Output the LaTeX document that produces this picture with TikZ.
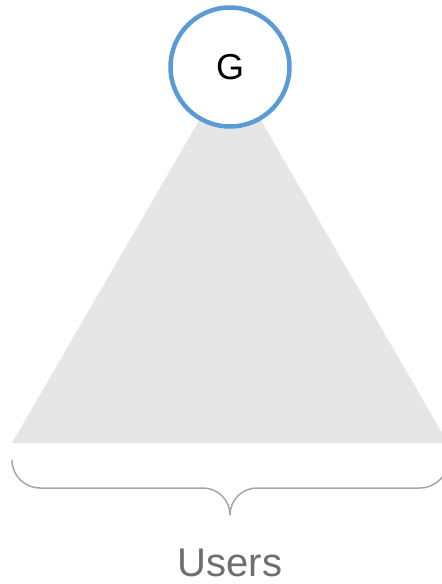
\documentclass[tikz,border=0pt]{standalone}
\usepackage{fontspec}
\setmainfont{Liberation Sans}
\definecolor{ringblue}{HTML}{5B9BD5}
\definecolor{trigray}{HTML}{E6E6E6}
\definecolor{bracegray}{HTML}{A6A6A6}
\definecolor{textgray}{HTML}{6E6E6E}
\tikzset{
  rootnode/.style={circle, draw=ringblue, line width=4.5pt, fill=white, minimum size=119pt, inner sep=0pt, font=\fontsize{36}{40}\selectfont},
  bracestyle/.style={draw=bracegray, line width=1.5pt},
  labelstyle/.style={text=textgray, inner sep=0pt, font=\fontsize{40}{46}\selectfont}
}
\begin{document}
\begin{tikzpicture}[x=1pt,y=-1pt]
\useasboundingbox (0,0) rectangle (442,584);
\clip (0,0) rectangle (442,584);
\coordinate (apex) at (230,67);
\coordinate (bl) at (12,443);
\coordinate (br) at (448,443);
\fill[trigray] (apex) -- (bl) -- (br) -- cycle;
\node[rootnode] (g) at (apex) {G};
\coordinate (bstart) at (12,460);
\coordinate (bend) at (448,460);
\coordinate (tip) at (230,515);
\draw[bracestyle] (bstart) arc[start angle=180, end angle=90, radius=28]
  -- (203,488) .. controls (218,488) and (230,500) .. (tip)
  .. controls (230,500) and (242,488) .. (257,488)
  -- (420,488) arc[start angle=90, end angle=0, radius=28];
\node[labelstyle, anchor=base] (users) at (230,576) {Users};
\end{tikzpicture}
\end{document}
